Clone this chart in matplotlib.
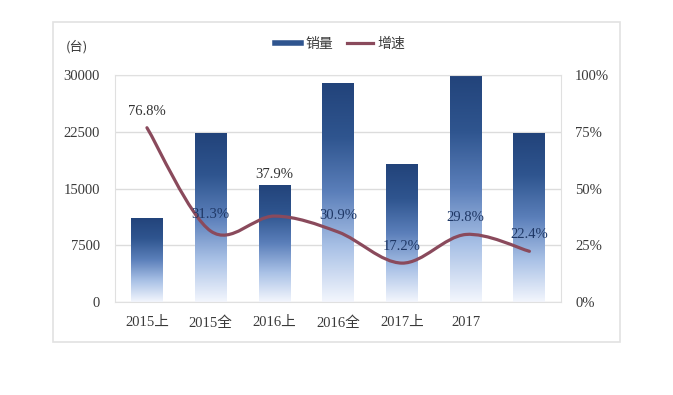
import matplotlib.pyplot as plt
import numpy as np
from matplotlib.colors import LinearSegmentedColormap
from matplotlib.lines import Line2D
from matplotlib.patches import PathPatch, Rectangle
from matplotlib.path import Path

# Données
periods = ['2015上', '2015全', '2016上', '2016全', '2017上', '2017', '']
sales = [11100, 22300, 15500, 29000, 18200, 30000, 22300]
growth = [0.768, 0.313, 0.379, 0.309, 0.172, 0.298, 0.224]
growth_labels = ['76.8%', '31.3%', '37.9%', '30.9%', '17.2%', '29.8%', '22.4%']

plt.rcParams['font.family'] = ['Liberation Serif', 'Noto Sans CJK SC']
txt = '#3a3a3a'
line_col = '#8a4a5c'

fig = plt.figure(figsize=(6.73, 3.95), dpi=100)
# cadre extérieur
fig.patches.append(Rectangle((0.079, 0.134), 0.842, 0.810, transform=fig.transFigure,
                             fill=False, edgecolor='#e2e2e2', lw=1.2))

ax = fig.add_axes([0.171, 0.235, 0.663, 0.575])
x = np.arange(len(periods))
ax.set_xlim(-0.5, len(periods) - 0.5)
ax.set_ylim(0, 30000)

# barres avec dégradé
cmap = LinearSegmentedColormap.from_list(
    'bar', ['#f3f6fd', '#a9c1e6', '#5b7fba', '#2f558f', '#22437a'])
bars = ax.bar(x, sales, width=0.5, color='none', zorder=2)
grad = np.linspace(0, 1, 256).reshape(-1, 1)
for b in bars:
    x0, y0 = b.get_x(), b.get_y()
    im = ax.imshow(grad, cmap=cmap, origin='lower', aspect='auto',
                   extent=[x0, x0 + b.get_width(), y0, y0 + b.get_height()], zorder=2)
    im.set_clip_path(b)

ax.set_yticks([0, 7500, 15000, 22500, 30000])
ax.grid(axis='y', color='#dcdcdc', lw=1)
ax.set_axisbelow(True)
ax.set_xticks(x)
ax.set_xticklabels(periods)
ax.tick_params(axis='x', length=0, pad=10, labelsize=10.5, colors=txt)
ax.tick_params(axis='y', length=0, pad=11, labelsize=10.5, colors=txt)
for s in ax.spines.values():
    s.set_color('#e0e0e0')

ax2 = ax.twinx()
ax2.set_ylim(0, 1)
ax2.set_yticks([0, 0.25, 0.5, 0.75, 1.0])
ax2.set_yticklabels(['0%', '25%', '50%', '75%', '100%'])
ax2.tick_params(axis='y', length=0, pad=10, labelsize=10.5, colors=txt)
for s in ax2.spines.values():
    s.set_visible(False)

# courbe lissée (Bézier type Catmull-Rom)
pts = np.column_stack([x, growth]).astype(float)
ext = np.vstack([pts[0], pts, pts[-1]])
verts = [pts[0]]
codes = [Path.MOVETO]
for i in range(len(pts) - 1):
    p0, p1, p2, p3 = ext[i], ext[i + 1], ext[i + 2], ext[i + 3]
    verts += [p1 + (p2 - p0) / 6, p2 - (p3 - p1) / 6, p2]
    codes += [Path.CURVE4] * 3
ax2.add_patch(PathPatch(Path(verts, codes), facecolor='none', edgecolor=line_col,
                        lw=2.3, capstyle='round', zorder=3))

offsets = [12, 12, 30, 12, 12, 12, 12]
colors = ['#333333', '#1f3866', '#333333', '#1f3866', '#1f3866', '#1f3866', '#1f3866']
for xi, g, lab, off, c in zip(x, growth, growth_labels, offsets, colors):
    ax2.annotate(lab, (xi, g), xytext=(0, off), textcoords='offset points',
                 ha='center', va='center', fontsize=10.5, color=c, zorder=4)

fig.text(0.097, 0.882, '(台)', fontsize=9.5, color=txt, ha='left', va='center',
         family=['Noto Sans CJK SC'])

handles = [Line2D([], [], color='#2f558f', lw=4),
           Line2D([], [], color=line_col, lw=2.3)]
fig.legend(handles, ['销量', '增速'], loc='center', bbox_to_anchor=(0.505, 0.888),
           ncol=2, frameon=False, handlelength=1.9, columnspacing=1.0, handletextpad=0.3,
           prop={'family': ['Noto Sans CJK SC'], 'size': 10}, labelcolor=txt)

plt.savefig('out.png', dpi=100)
